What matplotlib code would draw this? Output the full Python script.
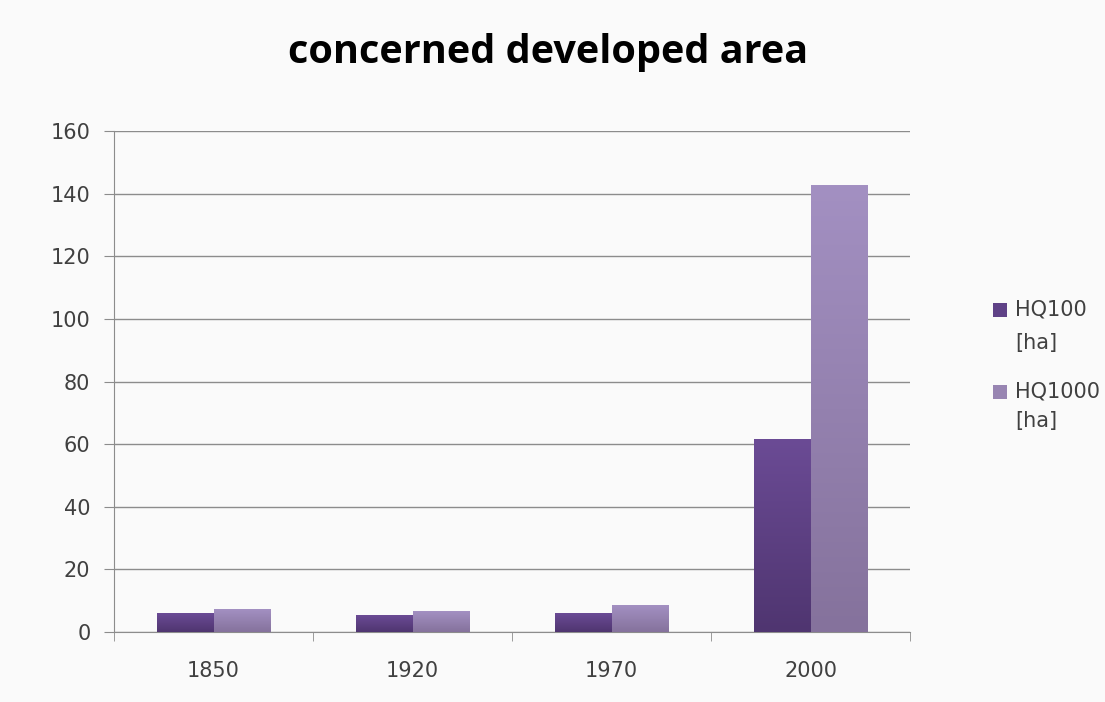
import numpy as np
import matplotlib.pyplot as plt
from matplotlib.colors import LinearSegmentedColormap
from matplotlib.patches import Rectangle

years = ['1850', '1920', '1970', '2000']
hq100 = [5.8, 5.2, 5.8, 61.5]
hq1000 = [7.1, 6.5, 8.5, 142.5]
series_names = [('HQ100', '[ha]'), ('HQ1000', '[ha]')]

plt.rcParams['font.family'] = ['DejaVu Sans']

W, H = 1105, 702
fig = plt.figure(figsize=(W / 100, H / 100), dpi=100, facecolor='#fafafa')
ax = fig.add_axes([114 / W, 1 - 632 / H, (910 - 114) / W, (632 - 131) / H])
ax.set_facecolor('#fafafa')

x = np.arange(len(years))
w = 0.286
c1 = '#5f4287'
c2 = '#9885b2'

def gradient_bars(xs, heights, top, bottom):
    grad = np.linspace(0, 1, 256).reshape(-1, 1)
    cmap = LinearSegmentedColormap.from_list('g', [bottom, top])
    for xi, h in zip(xs, heights):
        ax.imshow(grad, extent=(xi - w / 2, xi + w / 2, 0, h), origin='lower',
                  aspect='auto', cmap=cmap, zorder=3)

ax.bar(x - w / 2, hq100, w, color=c1, zorder=2)
ax.bar(x + w / 2, hq1000, w, color=c2, zorder=2)
gradient_bars(x - w / 2, hq100, '#6b4b95', '#4f3570')
gradient_bars(x + w / 2, hq1000, '#a390c2', '#85729c')

ax.set_xlim(-0.5, 3.5)
ax.set_ylim(0, 160)
ax.set_yticks(range(0, 161, 20))
ax.set_xticks(x)
ax.set_xticklabels(years)
ax.set_xticks(np.arange(-0.5, 4, 1), minor=True)
ax.tick_params(axis='x', which='major', length=0, pad=21, labelsize=15, colors='#404040')
ax.tick_params(axis='x', which='minor', length=6.5, color='#8c8c8c', direction='out')
ax.tick_params(axis='y', length=7, color='#8c8c8c', labelsize=15, labelcolor='#404040', pad=10)

ax.grid(axis='y', color='#8c8c8c', linewidth=1, zorder=1)
for s in ['top', 'right']:
    ax.spines[s].set_visible(False)
ax.spines['left'].set_color('#8c8c8c')
ax.spines['bottom'].set_color('#8c8c8c')

fig.text(548 / W, 1 - 52 / H, 'concerned developed area', ha='center', va='center',
         fontsize=28.5, fontweight='bold', color='#000000', family=['Open Sans', 'DejaVu Sans'])

# legend, drawn by hand so the square sits on the first line
legend_rows = [(310, 343, c1), (392, 421, c2)]
for (name, unit), (y1, y2, col) in zip(series_names, legend_rows):
    fig.patches.append(Rectangle((993 / W, 1 - (y1 + 7) / H), 14 / W, 14 / H,
                                 transform=fig.transFigure, facecolor=col, edgecolor='none'))
    fig.text(1015 / W, 1 - y1 / H, name, ha='left', va='center', fontsize=15, color='#404040')
    fig.text(1015 / W, 1 - y2 / H, unit, ha='left', va='center', fontsize=15, color='#404040')

fig.savefig('out.png', dpi=100, facecolor=fig.get_facecolor())
